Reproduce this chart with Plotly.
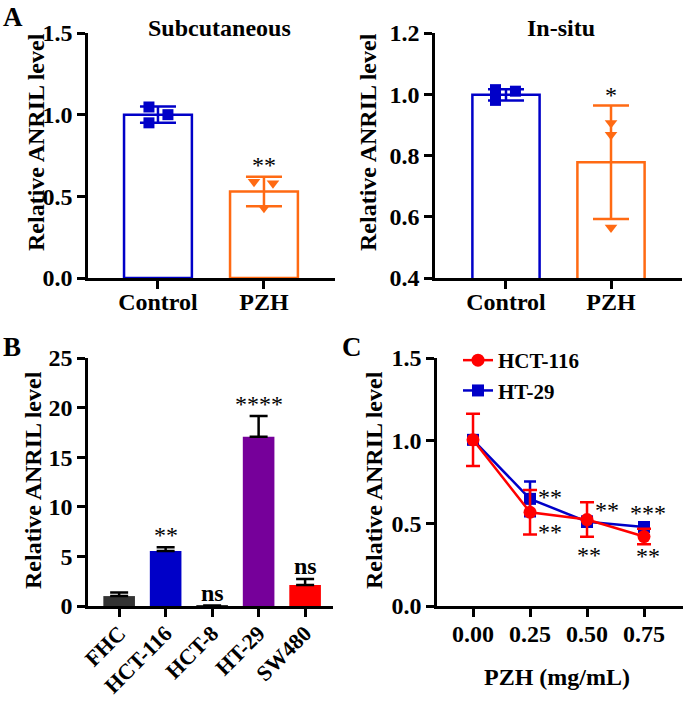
import plotly.graph_objects as go

# ---------------- data ----------------
groups_A = ["Control", "PZH"]
subq_mean = [1.00, 0.53]
subq_sd = [0.05, 0.09]
subq_ctrl_pts = [1.047, 1.00, 0.95]
subq_pzh_pts = [0.59, 0.58, 0.43]
subq_sig = ["", "**"]

insitu_mean = [0.998, 0.778]
insitu_sd = [0.018, 0.185]
insitu_ctrl_pts = [1.015, 0.98, 1.01]
insitu_pzh_pts = [0.906, 0.868, 0.565]
insitu_sig = ["", "*"]

cells_B = ["FHC", "HCT-116", "HCT-8", "HT-29", "SW480"]
cells_B_mean = [1.0, 5.55, 0.05, 17.05, 2.12]
cells_B_err = [0.35, 0.38, 0.0, 2.1, 0.6]
cells_B_sig = ["", "**", "ns", "****", "ns"]

doses = [0.00, 0.25, 0.50, 0.75]
hct116_mean = [1.005, 0.567, 0.523, 0.42]
hct116_sd = [0.158, 0.135, 0.104, 0.047]
ht29_mean = [1.005, 0.648, 0.51, 0.478]
ht29_sd = [0.02, 0.105, 0.03, 0.01]
hct116_sig = ["", "**", "**", "**"]
ht29_sig = ["", "**", "**", "***"]

# ---------------- styling helpers ----------------
W, H = 685, 706
FONT = "Liberation Serif"
BLUE = "#0000c8"
ORANGE = "#ff6a13"
PURPLE = "#76009a"
RED = "#ff0000"
DARK = "#333333"

def fx(px):
    return px / W

def fy(py):
    return 1 - py / H

jit_ctrl_A = [-0.085, 0.094, -0.085]
jit_pzh_A = [-0.094, 0.085, 0.0]
jit_ctrl_A2 = [-0.10, -0.10, 0.09]
jit_pzh_A2 = [0.0, 0.0, 0.0]

fig = go.Figure()

# ---- Panel A left: Subcutaneous ----
fig.add_trace(go.Bar(
    x=[0, 1], y=subq_mean, width=0.64,
    marker=dict(color="white", line=dict(color=[BLUE, ORANGE], width=2.5)),
    xaxis="x", yaxis="y", showlegend=False))
for i, (pts, jit, col, sym) in enumerate([
        (subq_ctrl_pts, jit_ctrl_A, BLUE, "square"),
        (subq_pzh_pts, jit_pzh_A, ORANGE, "triangle-down")]):
    fig.add_trace(go.Scatter(
        x=[i + j for j in jit], y=pts, mode="markers",
        marker=dict(symbol=sym, size=11, color=col),
        xaxis="x", yaxis="y", showlegend=False))
    fig.add_trace(go.Scatter(
        x=[i], y=[subq_mean[i]], mode="markers",
        marker=dict(size=1, color=col, opacity=0),
        error_y=dict(type="data", array=[subq_sd[i]], color=col,
                     thickness=2.5, width=18),
        xaxis="x", yaxis="y", showlegend=False))

# ---- Panel A right: In-situ ----
fig.add_trace(go.Bar(
    x=[0, 1], y=insitu_mean, width=0.64,
    marker=dict(color="white", line=dict(color=[BLUE, ORANGE], width=2.5)),
    xaxis="x2", yaxis="y2", showlegend=False))
for i, (pts, jit, col, sym) in enumerate([
        (insitu_ctrl_pts, jit_ctrl_A2, BLUE, "square"),
        (insitu_pzh_pts, jit_pzh_A2, ORANGE, "triangle-down")]):
    fig.add_trace(go.Scatter(
        x=[i + j for j in jit], y=pts, mode="markers",
        marker=dict(symbol=sym, size=11, color=col),
        xaxis="x2", yaxis="y2", showlegend=False))
    fig.add_trace(go.Scatter(
        x=[i], y=[insitu_mean[i]], mode="markers",
        marker=dict(size=1, color=col, opacity=0),
        error_y=dict(type="data", array=[insitu_sd[i]], color=col,
                     thickness=2.5, width=18),
        xaxis="x2", yaxis="y2", showlegend=False))

# ---- Panel B ----
fig.add_trace(go.Bar(
    x=cells_B, y=cells_B_mean, width=0.68,
    marker=dict(color=[DARK, BLUE, DARK, PURPLE, RED], line=dict(width=0)),
    error_y=dict(type="data", symmetric=False, array=cells_B_err,
                 arrayminus=[0] * len(cells_B), color="black",
                 thickness=2.5, width=9),
    xaxis="x3", yaxis="y3", showlegend=False))

# ---- Panel C ----
fig.add_trace(go.Scatter(
    x=doses, y=ht29_mean, mode="lines+markers", name="HT-29",
    line=dict(color=BLUE, width=2.5),
    marker=dict(symbol="square", size=12, color=BLUE),
    error_y=dict(type="data", array=ht29_sd, color=BLUE, thickness=2.5, width=6),
    xaxis="x4", yaxis="y4", legendrank=2))
fig.add_trace(go.Scatter(
    x=doses, y=hct116_mean, mode="lines+markers", name="HCT-116",
    line=dict(color=RED, width=2.5),
    marker=dict(symbol="circle", size=13, color=RED),
    error_y=dict(type="data", array=hct116_sd, color=RED, thickness=2.5, width=7),
    xaxis="x4", yaxis="y4", legendrank=1))

# ---------------- axes ----------------
tickfont = dict(family=FONT, size=24, color="black", weight="bold")
axis_common = dict(showline=True, linecolor="black", linewidth=2.5,
                   ticks="outside", ticklen=8, tickwidth=2.5, tickcolor="black",
                   showgrid=False, zeroline=False, tickfont=tickfont,
                   automargin=False)
axis_b_x = dict(axis_common)
axis_b_x["tickfont"] = dict(family=FONT, size=22, color="black", weight="bold")

fig.update_layout(
    xaxis=dict(domain=[fx(88), fx(335)], anchor="y", range=[-0.66, 1.67],
               tickvals=[0, 1], ticktext=groups_A, ticklabelstandoff=-8, **axis_common),
    yaxis=dict(domain=[fy(278), fy(33)], anchor="x", range=[0, 1.5],
               tickvals=[0, 0.5, 1.0, 1.5], tickformat=".1f", **axis_common),
    xaxis2=dict(domain=[fx(435), fx(682)], anchor="y2", range=[-0.676, 1.676],
                tickvals=[0, 1], ticktext=groups_A, ticklabelstandoff=-8, **axis_common),
    yaxis2=dict(domain=[fy(278), fy(33)], anchor="x2", range=[0.4, 1.2],
                tickvals=[0.4, 0.6, 0.8, 1.0, 1.2], tickformat=".1f", **axis_common),
    xaxis3=dict(domain=[fx(88), fx(333)], anchor="y3", range=[-0.67, 4.6],
                type="category", tickangle=-45, ticklabelstandoff=-5, **axis_b_x),
    yaxis3=dict(domain=[fy(606), fy(358)], anchor="x3", range=[0, 25],
                tickvals=[0, 5, 10, 15, 20, 25], **axis_common),
    xaxis4=dict(domain=[fx(437), fx(683)], anchor="y4", range=[-0.158, 0.921],
                tickvals=doses, tickformat=".2f", ticklabelstandoff=-4, **axis_common),
    yaxis4=dict(domain=[fy(606), fy(358)], anchor="x4", range=[0, 1.5],
                tickvals=[0, 0.5, 1.0, 1.5], tickformat=".1f", **axis_common),
)

# ---------------- annotations ----------------
ann = []
def txt(x, y, text, size=23, xref="paper", yref="paper", angle=0, weight="bold",
        xanchor="center", yanchor="middle"):
    ann.append(dict(x=x, y=y, xref=xref, yref=yref, text=text, showarrow=False,
                    textangle=angle, xanchor=xanchor, yanchor=yanchor,
                    font=dict(family=FONT, size=size, color="black", weight=weight)))

# panel letters
txt(fx(1), fy(0), "A", size=27, xanchor="left", yanchor="top")
txt(fx(1), fy(330), "B", size=27, xanchor="left", yanchor="top")
txt(fx(340), fy(330), "C", size=27, xanchor="left", yanchor="top")
# titles
txt(fx(219), fy(28), "Subcutaneous", size=24)
txt(fx(561), fy(28), "In-situ", size=24)
# y-axis titles
ylab = "Relative ANRIL level"
txt(fx(36), fy(142), ylab, angle=-90, size=24)
txt(fx(368), fy(142), ylab, angle=-90, size=24)
txt(fx(33), fy(480), ylab, angle=-90, size=24)
txt(fx(374), fy(480), ylab, angle=-90, size=24)
# C x title
txt(fx(557), fy(677), "PZH (mg/mL)", size=24)

# significance marks A
for i, s in enumerate(subq_sig):
    if s:
        txt(i, subq_mean[i] + subq_sd[i] + 0.07, s, size=24, xref="x", yref="y", weight="normal")
for i, s in enumerate(insitu_sig):
    if s:
        txt(i, insitu_mean[i] + insitu_sd[i] + 0.035, s, size=24, xref="x2", yref="y2", weight="normal")
# significance marks B
for c, m, e, s in zip(cells_B, cells_B_mean, cells_B_err, cells_B_sig):
    if s:
        if s == "ns":
            txt(c, m + e + 1.3, s, size=24, xref="x3", yref="y3", weight="bold")
        else:
            txt(c, m + e + 1.2, s, size=24, xref="x3", yref="y3", weight="normal")
# significance marks C
c_marks = [
    (0.25, 0.66, ht29_sig[1], "left"),
    (0.25, 0.45, hct116_sig[1], "left"),
    (0.50, 0.58, ht29_sig[2], "left"),
    (0.50, 0.31, hct116_sig[2], "center"),
    (0.75, 0.565, ht29_sig[3], "center"),
    (0.75, 0.30, hct116_sig[3], "center"),
]
for x, y, s, anc in c_marks:
    xx = x + (0.028 if anc == "left" else (0.01 if x == 0.5 else 0.018))
    txt(xx, y, s, size=24, xref="x4", yref="y4", weight="normal",
        xanchor="left" if anc == "left" else "center")

fig.update_layout(
    annotations=ann,
    width=W, height=H,
    margin=dict(l=0, r=0, t=0, b=0, autoexpand=False),
    paper_bgcolor="white", plot_bgcolor="white",
    barmode="overlay",
    legend=dict(x=fx(458), y=fy(340), xanchor="left", yanchor="top",
                bgcolor="rgba(0,0,0,0)", itemwidth=30, tracegroupgap=0,
                font=dict(family=FONT, size=21, color="black", weight="bold")),
    font=dict(family=FONT, color="black"),
)

fig.write_html("out.html", config={"displayModeBar": False},
               post_script="document.body.style.margin='0';document.body.style.padding='0';document.body.style.overflow='hidden';")
